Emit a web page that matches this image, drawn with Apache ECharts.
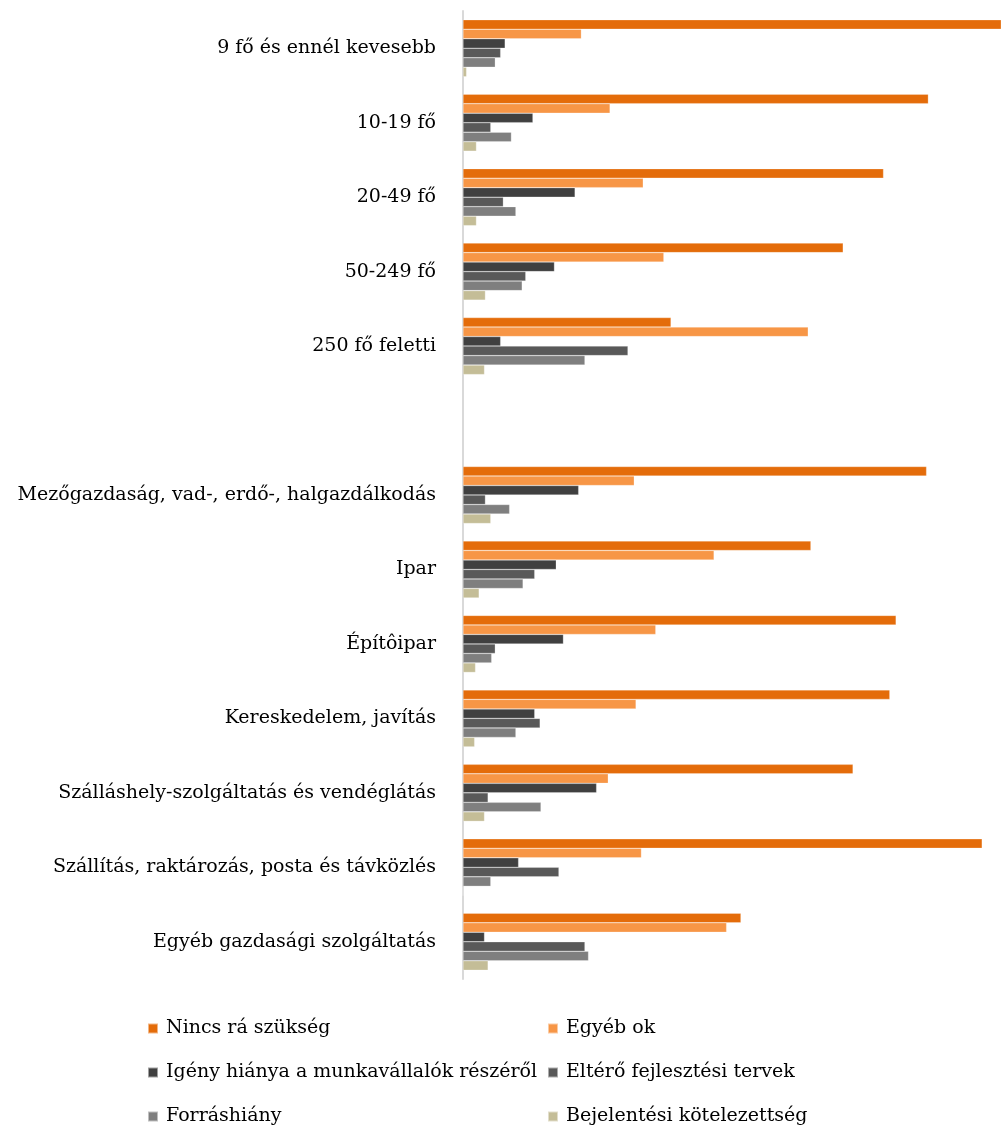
<!DOCTYPE html>
<html>
<head>
<meta charset="utf-8">
<script src="https://cdn.jsdelivr.net/npm/echarts@6/dist/echarts.min.js"></script>
<style>
  html, body { margin: 0; padding: 0; background: #fff; }
  #chart { width: 1001px; height: 1126px; }
</style>
</head>
<body>
<div id="chart"></div>
<script>
// kategóriák (üres elem = térköz a két blokk között)
const categories = [
  '9 fő és ennél kevesebb', '10-19 fő', '20-49 fő', '50-249 fő', '250 fő feletti', '',
  'Mezőgazdaság, vad-, erdő-, halgazdálkodás', 'Ipar', 'Építôipar', 'Kereskedelem, javítás',
  'Szálláshely-szolgáltatás és vendéglátás', 'Szállítás, raktározás, posta és távközlés',
  'Egyéb gazdasági szolgáltatás'
];

const seriesNames = [
  'Nincs rá szükség', 'Egyéb ok', 'Igény hiánya a munkavállalók részéről',
  'Eltérő fejlesztési tervek', 'Forráshiány', 'Bejelentési kötelezettség'
];

const nincs = [62, 51.9, 46.9, 42.4, 23.2, '-', 51.7, 38.8, 48.3, 47.6, 43.5, 57.9, 31.0];
const egyeb = [13.2, 16.4, 20.1, 22.4, 38.5, '-', 19.1, 28.0, 21.5, 19.3, 16.2, 19.9, 29.4];
const igeny = [4.7, 7.8, 12.5, 10.2, 4.2, '-', 12.9, 10.4, 11.2, 8.0, 14.9, 6.2, 2.4];
const eltero = [4.2, 3.1, 4.5, 7.0, 18.4, '-', 2.5, 8.0, 3.6, 8.6, 2.8, 10.7, 13.6];
const forras = [3.6, 5.4, 5.9, 6.6, 13.6, '-', 5.2, 6.7, 3.2, 5.9, 8.7, 3.1, 14.0];
const bejelentes = [0.4, 1.5, 1.5, 2.5, 2.4, '-', 3.1, 1.8, 1.4, 1.3, 2.4, 0, 2.8];

const colors = ['#E46C0A', '#F79646', '#404040', '#595959', '#7F7F7F', '#C4BD97'];
const values = [nincs, egyeb, igeny, eltero, forras, bejelentes];

const font = 'DejaVu Serif';

// legend: 2 oszlop, 3 sor
const legendPos = [
  { left: 147, top: 1019 }, { left: 547, top: 1019 },
  { left: 147, top: 1063 }, { left: 547, top: 1063 },
  { left: 147, top: 1107 }, { left: 547, top: 1107 }
];

const myChart = echarts.init(document.getElementById('chart'));

const option = {
  animation: false,
  color: colors,
  grid: { left: 463, right: 0, top: 11, height: 968 },
  legend: seriesNames.map((n, i) => ({
    data: [n],
    left: legendPos[i].left,
    top: legendPos[i].top,
    padding: 0,
    icon: 'rect',
    itemWidth: 10,
    itemHeight: 10,
    textStyle: { fontFamily: font, fontSize: 19, color: '#000', padding: [0, 0, 0, 3] }
  })),
  xAxis: {
    type: 'value',
    min: 0,
    max: 60,
    show: false,
    splitLine: { show: false }
  },
  yAxis: {
    type: 'category',
    inverse: true,
    data: categories,
    axisLine: { show: true, lineStyle: { color: '#D9D9D9', width: 2 } },
    axisTick: { show: false },
    axisLabel: { margin: 27, fontFamily: font, fontSize: 19, color: '#000' }
  },
  series: seriesNames.map((n, i) => ({
    name: n,
    type: 'bar',
    data: values[i],
    barWidth: 9.5,
    barGap: '0%',
    clip: true,
    itemStyle: { color: colors[i], borderColor: 'rgba(255,255,255,0.5)', borderWidth: 0.5 }
  }))
};

myChart.setOption(option);
</script>
</body>
</html>
